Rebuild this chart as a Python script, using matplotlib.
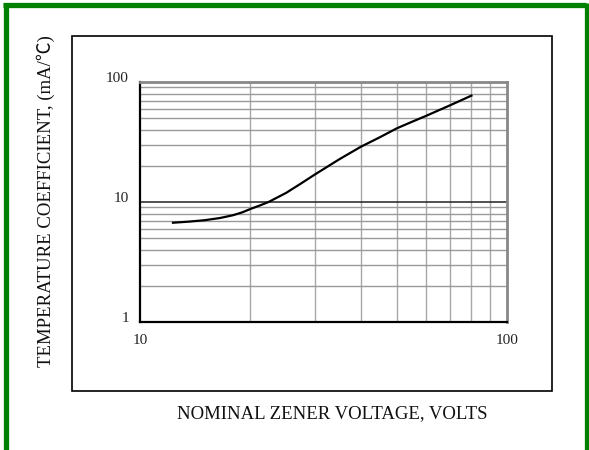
# Zener temperature coefficient vs nominal voltage (log-log chart)
import matplotlib
matplotlib.use("Agg")
import matplotlib.pyplot as plt
from matplotlib.lines import Line2D
from matplotlib.patches import Rectangle
import matplotlib.transforms as mtransforms

# ==========================
# Data
# ==========================
voltage = [12.3, 13.5, 15.0, 16.5, 17.9, 19.0, 20.0, 21.2, 22.4, 25.0, 27.3, 30.0,
           35.0, 40.0, 45.0, 50.0, 55.0, 60.0, 70.0, 80.0]
temp_coeff = [6.72, 6.85, 7.05, 7.35, 7.75, 8.2, 8.75, 9.35, 10.0, 11.9, 14.1, 17.0,
              22.8, 28.9, 34.6, 41.0, 46.5, 52.0, 64.0, 77.0]

x_ticks = [10, 100]
y_ticks = [1, 10, 100]
x_grid = [20, 30, 40, 50, 60, 70, 80, 90]
y_grid = [2, 3, 4, 5, 6, 7, 8, 9, 20, 30, 40, 50, 60, 70, 80, 90]

serif = ["Liberation Serif", "Noto Sans CJK SC"]

fig = plt.figure(figsize=(5.89, 4.5), dpi=100)
fig.patch.set_facecolor("white")

# green outer border (left, top, right)
W, H = 589, 450
fig.add_artist(Line2D([5.5 / W, 5.5 / W], [0, 1 - 3 / H], color="#008000",
                      lw=3.8, transform=fig.transFigure, solid_capstyle="butt"))
fig.add_artist(Line2D([3 / W, 1 - 3 / W], [1 - 5.3 / H, 1 - 5.3 / H], color="#008000",
                      lw=3.8, transform=fig.transFigure, solid_capstyle="butt"))
fig.add_artist(Line2D([1 - 2 / W, 1 - 2 / W], [0, 1 - 3 / H], color="#008000",
                      lw=3.8, transform=fig.transFigure, solid_capstyle="butt"))

# inner black frame
fig.add_artist(Rectangle((72 / W, 1 - 391 / H), (552 - 72) / W, (391 - 36) / H,
                         transform=fig.transFigure, fill=False, ec="black", lw=1.2))

ax = fig.add_axes([140 / W, 1 - 322 / H, 367 / W, 240 / H])
ax.set_xscale("log")
ax.set_yscale("log")
ax.set_xlim(10, 100)
ax.set_ylim(1, 100)

# grid lines
for gx in x_grid:
    ax.axvline(gx, color="#a8a8a8", lw=1.0, zorder=1)
for gy in y_grid:
    ax.axhline(gy, color="#9a9a9a", lw=1.0, zorder=1)
ax.axhline(10, color="#222222", lw=1.1, zorder=2)

ax.plot(voltage, temp_coeff, color="black", lw=1.6, zorder=3,
        solid_joinstyle="round")

# spines
ax.spines["left"].set_color("black")
ax.spines["left"].set_linewidth(1.6)
ax.spines["bottom"].set_color("black")
ax.spines["bottom"].set_linewidth(1.6)
ax.spines["top"].set_color("#888888")
ax.spines["top"].set_linewidth(2.0)
ax.spines["right"].set_color("#888888")
ax.spines["right"].set_linewidth(2.0)

# ticks
ax.set_xticks(x_ticks)
ax.set_xticklabels([str(v) for v in x_ticks])
ax.set_yticks(y_ticks)
ax.set_yticklabels([str(v) for v in y_ticks])
ax.minorticks_off()
ax.tick_params(axis="both", length=0, labelsize=11, colors="#222222")
ax.tick_params(axis="x", pad=9)
ax.tick_params(axis="y", pad=8)
for lbl in ax.get_xticklabels() + ax.get_yticklabels():
    lbl.set_family(serif)
offset = mtransforms.ScaledTranslation(0, 5 / 100, fig.dpi_scale_trans)
for lbl in ax.get_yticklabels():
    lbl.set_transform(lbl.get_transform() + offset)

# axis titles
fig.text(332 / W, 1 - 414 / H, "NOMINAL ZENER VOLTAGE, VOLTS", ha="center", va="center",
         fontsize=13.5, family=serif, color="#111111")
fig.text(46 / W, 1 - 201 / H, "TEMPERATURE COEFFICIENT, (mA/℃)", ha="center", va="center",
         rotation=90, fontsize=13.5, family=serif, color="#111111")

fig.savefig("out.png", dpi=100, facecolor="white")
